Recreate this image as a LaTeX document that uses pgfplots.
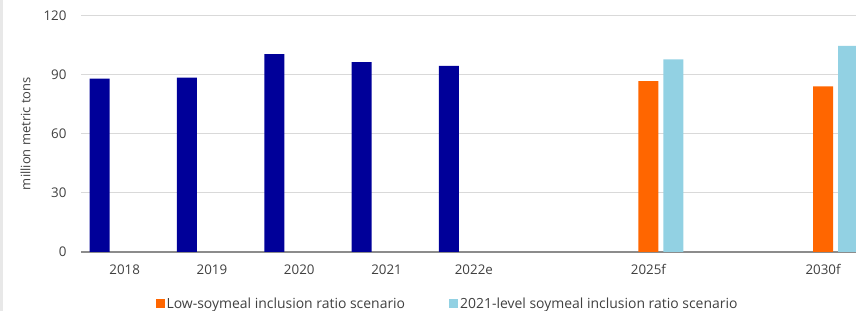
\documentclass[border=0pt]{standalone}
\usepackage{fontspec}
\setmainfont{Open Sans}
\usepackage{pgfplots}
\pgfplotsset{compat=1.18}
\definecolor{navyc}{HTML}{000099}
\definecolor{orangec}{HTML}{FF6600}
\definecolor{lbluec}{HTML}{92D1E3}
\definecolor{gridc}{HTML}{D9D9D9}
\definecolor{axisc}{HTML}{8C8C8C}
\definecolor{txtc}{HTML}{404040}
\begin{document}
\begin{tikzpicture}
\fill[gray!18] (0,0) rectangle (3bp,311bp);
\begin{axis}[
  at={(81bp,59bp)}, anchor=south west,
  scale only axis, width=775bp, height=236.7bp,
  xmin=-0.5, xmax=8.377, ymin=0, ymax=120,
  ytick={0,30,60,90,120},
  xtick={0,1,2,3,4,6,8},
  xticklabels={2018,2019,2020,2021,2022e,2025f,2030f},
  axis lines*=left,
  y axis line style={draw=none},
  x axis line style={draw=axisc, line width=1.3bp},
  major tick length=0pt,
  ymajorgrids, grid style={draw=gridc, line width=1.3bp},
  /pgf/number format/assume math mode=true,
  tick label style={font=\fontsize{13.4}{16}\selectfont, text=txtc},
  yticklabel style={anchor=east, inner sep=0pt, xshift=-14.3bp},
  xticklabel style={anchor=base, inner sep=0pt, yshift=-22.8bp},
  ylabel={million metric tons},
  every axis y label/.style={at={(axis description cs:-0.0715,0.5)}, rotate=90, anchor=center, font=\fontsize{13}{15}\selectfont, text=txtc},
  ybar, bar width=0.229, bar shift=0pt,
  legend columns=2,
  legend style={draw=none, fill=none, at={(0.4729,-0.2176)}, anchor=center,
    font=\fontsize{14}{16}\selectfont, text=txtc,
    /tikz/every even column/.append style={column sep=42bp}},
  legend image code/.code={\fill[#1] (0bp,-4.5bp) rectangle (9bp,4.5bp);},
]
\addplot[fill=navyc, draw=none, forget plot] coordinates {
  (-0.2864,87.9) (0.7136,88.4) (1.7136,100.3) (2.7136,96.3) (3.7136,94.3)};
\addplot[fill=orangec, draw=none] coordinates {(6,86.6) (8,84.0)};
\addplot[fill=lbluec, draw=none] coordinates {(6.2864,97.6) (8.2864,104.5)};
\legend{Low-soymeal inclusion ratio scenario, 2021-level soymeal inclusion ratio scenario}
\end{axis}
\pgfresetboundingbox
\path[use as bounding box] (0,0) rectangle (856bp,311bp);
\end{tikzpicture}
\end{document}
